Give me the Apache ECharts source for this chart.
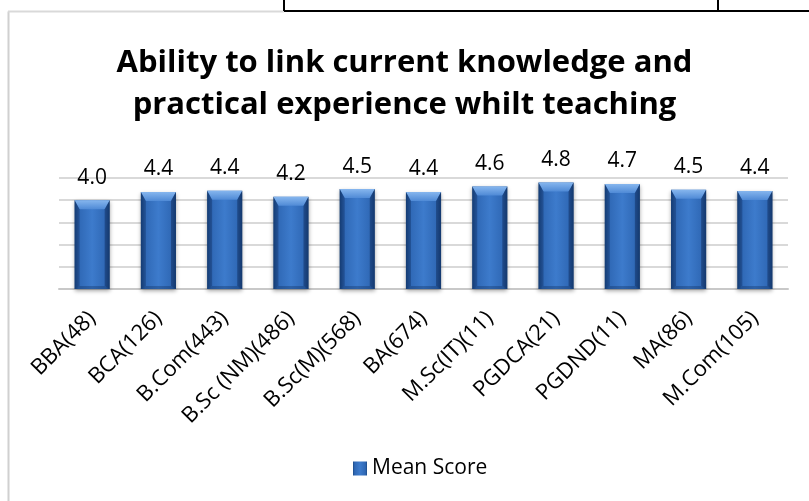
<!DOCTYPE html>
<html>
<head>
<meta charset="utf-8">
<script src="https://cdn.jsdelivr.net/npm/echarts@6/dist/echarts.min.js"></script>
<style>
  html, body { margin: 0; padding: 0; background: #fff; }
  #chart { width: 809px; height: 501px; }
</style>
</head>
<body>
<div id="chart"></div>
<script>
// data
var categories = ['BBA(48)', 'BCA(126)', 'B.Com(443)', 'B.Sc (NM)(486)', 'B.Sc(M)(568)', 'BA(674)',
  'M.Sc(IT)(11)', 'PGDCA(21)', 'PGDND(11)', 'MA(86)', 'M.Com(105)'];
var meanScore = [4.0, 4.37, 4.43, 4.15, 4.5, 4.37, 4.62, 4.8, 4.73, 4.47, 4.42];
var yTicks = [0, 1, 2, 3, 4, 5];

var FONT = '"Open Sans", "Liberation Sans", sans-serif';
var BAR_FRAC = 0.53;

// corpo della barra: gradiente orizzontale (bordi scuri, centro chiaro)
var barColor = new echarts.graphic.LinearGradient(0, 0, 1, 0, [
  { offset: 0, color: '#1b4a87' },
  { offset: 0.12, color: '#2f68b5' },
  { offset: 0.5, color: '#3d7bcc' },
  { offset: 0.88, color: '#2f68b5' },
  { offset: 1, color: '#1b4a87' }
]);

var chart = echarts.init(document.getElementById('chart'));

var option = {
  animation: false,
  textStyle: { fontFamily: FONT },
  title: {
    text: 'Ability to link current knowledge and\npractical experience whilt teaching',
    left: 'center',
    top: 37,
    textStyle: { fontFamily: FONT, fontWeight: 'bold', fontSize: 31, lineHeight: 42, color: '#000' }
  },
  legend: {
    top: 453,
    left: 348,
    itemWidth: 14,
    itemHeight: 14,
    itemGap: 6,
    icon: 'rect',
    data: ['Mean Score'],
    textStyle: { fontFamily: FONT, fontSize: 21, color: '#000' }
  },
  grid: { left: 59, right: 21, top: 178, bottom: 212 },
  xAxis: {
    type: 'category',
    data: categories,
    axisTick: { show: false },
    axisLine: { lineStyle: { color: '#c8c8c8', width: 2 } },
    axisLabel: { interval: 0, rotate: 45, margin: 26, fontSize: 22, color: '#000', fontFamily: FONT }
  },
  yAxis: {
    type: 'value',
    min: yTicks[0],
    max: yTicks[yTicks.length - 1],
    interval: 1,
    axisLabel: { show: false },
    axisLine: { show: false },
    axisTick: { show: false },
    splitLine: { lineStyle: { color: '#d9d9d9', width: 2 } }
  },
  series: [
    {
      name: 'Mean Score',
      type: 'bar',
      data: meanScore,
      barWidth: (BAR_FRAC * 100) + '%',
      itemStyle: {
        color: barColor,
        shadowColor: 'rgba(0,0,0,0.35)',
        shadowBlur: 4,
        shadowOffsetY: 2
      },
      label: {
        show: true,
        position: 'top',
        distance: 12,
        fontSize: 21,
        color: '#000',
        fontFamily: FONT,
        formatter: function (p) { return p.value.toFixed(1); }
      },
      z: 2
    },
    {
      // smussatura (bevel) sopra le barre
      type: 'custom',
      data: meanScore.map(function (v, i) { return [i, v]; }),
      silent: true,
      z: 3,
      renderItem: function (params, api) {
        var top = api.coord([api.value(0), api.value(1)]);
        var base = api.coord([api.value(0), 0]);
        var w = api.size([1, 0])[0] * BAR_FRAC;
        var x0 = top[0] - w / 2, x1 = top[0] + w / 2;
        var y0 = top[1], y1 = base[1];
        var b = 9, s = 5;
        return {
          type: 'group',
          children: [
            { type: 'polygon', shape: { points: [[x0, y0], [x1, y0], [x1 - s, y0 + b], [x0 + s, y0 + b]] },
              style: { fill: new echarts.graphic.LinearGradient(0, 0, 0, 1, [
                { offset: 0, color: '#86b6ee' }, { offset: 1, color: '#4f8ad6' }]) } },
            { type: 'polygon', shape: { points: [[x0, y0], [x0 + s, y0 + b], [x0 + s, y1 - 3], [x0, y1]] },
              style: { fill: 'rgba(10,35,80,0.35)' } },
            { type: 'polygon', shape: { points: [[x1, y0], [x1 - s, y0 + b], [x1 - s, y1 - 3], [x1, y1]] },
              style: { fill: 'rgba(10,35,80,0.45)' } },
            { type: 'polygon', shape: { points: [[x0, y1], [x0 + s, y1 - 3], [x1 - s, y1 - 3], [x1, y1]] },
              style: { fill: 'rgba(10,35,80,0.3)' } }
          ]
        };
      }
    }
  ],
  graphic: [
    // bordo del riquadro del grafico
    { type: 'line', shape: { x1: 8.5, y1: 11.5, x2: 8.5, y2: 501 }, style: { stroke: '#d0d0d0', lineWidth: 2 } },
    { type: 'line', shape: { x1: 8, y1: 11.5, x2: 284, y2: 11.5 }, style: { stroke: '#d9d9d9', lineWidth: 2 } },
    // righe della tabella del documento
    { type: 'line', shape: { x1: 284, y1: 11, x2: 809, y2: 11 }, style: { stroke: '#000', lineWidth: 2 } },
    { type: 'line', shape: { x1: 284, y1: 0, x2: 284, y2: 11 }, style: { stroke: '#000', lineWidth: 2 } },
    { type: 'line', shape: { x1: 718, y1: 0, x2: 718, y2: 11 }, style: { stroke: '#000', lineWidth: 2 } }
  ]
};

chart.setOption(option);
</script>
</body>
</html>
